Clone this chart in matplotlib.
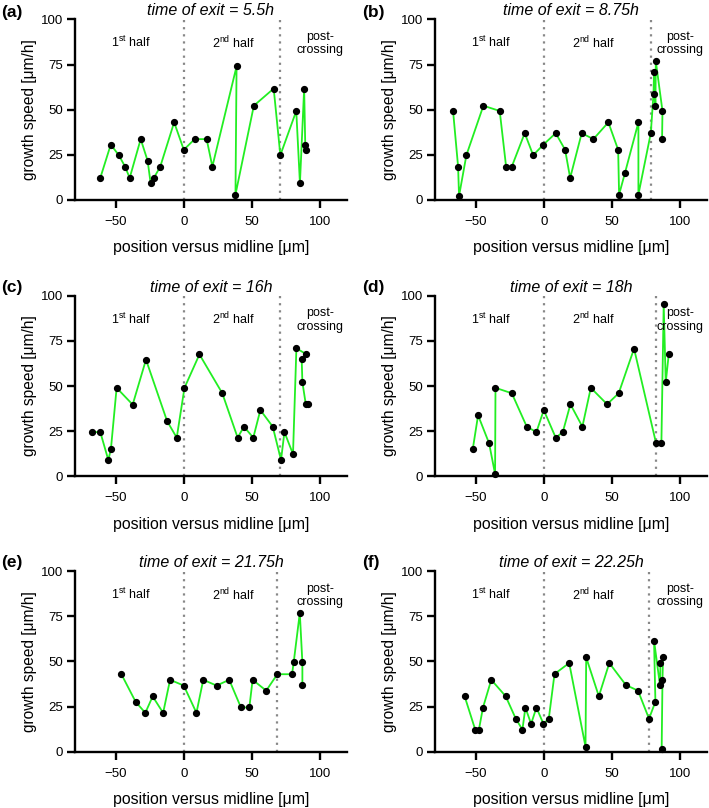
import matplotlib.pyplot as plt

plt.rcParams["font.family"] = ["Liberation Sans", "DejaVu Sans"]
plt.rcParams["mathtext.fontset"] = "custom"
plt.rcParams["mathtext.rm"] = "Liberation Sans"
plt.rcParams["mathtext.it"] = "Liberation Sans:italic"

# panel (a) time of exit = 5.5h
xa = [-61.5, -53.7, -47.8, -43.2, -39.8, -31.7, -26.6, -24.4, -22, -17.3, -7.1, 0, 8, 16.8, 21,
      38.8, 38, 51.5, 66.1, 71, 82.7, 85.4, 88.5, 89.3, 89.5]
ya = [12, 30.7, 24.8, 18.5, 12.2, 33.7, 21.7, 9.3, 12.2, 18.5, 43, 27.8, 33.7, 33.7, 18.5,
      74, 3, 52.2, 61.7, 24.8, 49.3, 9.3, 61.7, 30.7, 27.8]
# panel (b) 8.75h
xb = [-66.7, -63, -62.3, -56.9, -44.4, -32.4, -27.7, -23.5, -14, -7.8, -0.2, 8.8, 15.7, 19.4, 27.9,
      36.5, 47.5, 54.7, 55.4, 59.8, 69.6, 69.6, 78.7, 80.7, 81.1, 82.1, 82.4, 87.3, 87]
yb = [49.3, 18.5, 2.2, 24.8, 52.2, 49.3, 18.5, 18.5, 37, 24.8, 30.7, 37, 27.8, 12.2, 37,
      33.7, 43, 27.8, 3, 15.2, 43, 3, 37, 58.7, 71, 52.2, 76.8, 49.3, 33.9]
# panel (c) 16h
xc = [-67.6, -61.4, -55.5, -53.6, -49.4, -37.6, -27.8, -12.3, -5.2, 0.5, 11.5, 28.3, 39.6, 44.2,
      51.1, 56.3, 65.4, 71.5, 74, 80.3, 82.8, 89.9, 86.7, 87.2, 89.7, 91.2]
yc = [24.5, 24.5, 9, 15.1, 49, 39.7, 64.6, 30.6, 21.4, 49, 67.5, 46, 21.4, 27.5,
      21.4, 36.7, 27.5, 9, 24.5, 12.3, 70.9, 67.7, 64.7, 52.2, 39.9, 39.9]
# panel (d) 18h
xd = [-52.2, -48.3, -40.2, -35.8, -35.5, -23.5, -12.5, -5.4, 0, 8.8, 14, 19.6, 28.4, 34.6,
      46.6, 55.1, 66.4, 82.6, 86.5, 88.2, 89.7, 91.9]
yd = [15.1, 33.8, 18.3, 1.3, 49, 46, 27.5, 24.5, 36.7, 21.4, 24.5, 39.9, 27.5, 49,
      39.9, 46, 70.7, 18.3, 18.3, 95.2, 52, 67.5]
# panel (e) 21.75h
xe = [-45.9, -35.4, -28.3, -22.9, -15.2, -10.1, 0, 9.3, 14.3, 24.1, 33.4, 42, 48.2, 50.6,
      60.6, 68.8, 79.6, 80.8, 85.3, 87.2, 87.2]
ye = [42.9, 27.6, 21.5, 30.6, 21.5, 39.8, 36.6, 21.5, 39.8, 36.6, 39.8, 24.5, 24.5, 39.8,
      33.8, 42.9, 42.9, 49.4, 76.8, 49.4, 36.8]
# panel (f) 22.25h
xf = [-58.2, -50.4, -47.7, -44.7, -38.6, -28, -20.6, -15.7, -13.5, -9.3, -5.4, -0.2, 3.7, 7.9,
      18.7, 30.7, 31.2, 40.5, 48.2, 60.4, 69.3, 77.4, 82.1, 81.1, 85.5, 85.8, 87.7, 87.3, 86.7]
yf = [30.7, 12.2, 12.2, 24.4, 39.8, 30.7, 18.3, 12.2, 24.4, 15.4, 24.4, 15.4, 18.3, 43,
      49.1, 2.8, 52.2, 30.7, 49.1, 36.9, 33.8, 18.3, 27.6, 61.5, 36.7, 49.1, 52.2, 39.8, 1.3]

xs = [xa, xb, xc, xd, xe, xf]
ys = [ya, yb, yc, yd, ye, yf]
exit_pos = [71, 78.7, 71, 82.6, 68.8, 77.4]
times = ["5.5h", "8.75h", "16h", "18h", "21.75h", "22.25h"]
letters = ["(a)", "(b)", "(c)", "(d)", "(e)", "(f)"]

fig = plt.figure(figsize=(7.09, 8.08), dpi=100)
lefts = [0.1058, 0.6135]
bottoms = [0.7525, 0.4105, 0.0697]
w, h = 0.3836, 0.2235

for i in range(6):
    row, col = i // 2, i % 2
    ax = fig.add_axes([lefts[col], bottoms[row], w, h])
    ax.plot(xs[i], ys[i], color="#22ee22", lw=1.3, zorder=3, clip_on=False)
    ax.plot(xs[i], ys[i], "o", color="black", ms=4.2, zorder=4, clip_on=False)
    ax.axvline(0, color="#888888", ls=(0, (1, 2.2)), lw=1.6, zorder=2)
    ax.axvline(exit_pos[i], color="#888888", ls=(0, (1, 2.2)), lw=1.6, zorder=2)

    ax.set_xlim(-80, 120)
    ax.set_ylim(0, 100)
    ax.set_xticks([-50, 0, 50, 100])
    ax.set_yticks([0, 25, 50, 75, 100])
    for s in ["top", "right"]:
        ax.spines[s].set_visible(False)
    for s in ["left", "bottom"]:
        ax.spines[s].set_linewidth(1.7)
    ax.tick_params(length=5.5, width=1.7, labelsize=9.5, pad=3)
    ax.tick_params(axis="x", pad=6)

    ax.set_xlabel("position versus midline [μm]", fontsize=11.4, labelpad=9)
    ax.set_ylabel("growth speed [μm/h]", fontsize=11.2, labelpad=3)
    ax.set_title("time of exit = " + times[i], fontsize=11.5, style="italic", pad=3)

    ax.text(-38.5, 87, "1$^{\\mathrm{st}}$ half", ha="center", va="center", fontsize=9)
    ax.text(36.5, 87, "2$^{\\mathrm{nd}}$ half", ha="center", va="center", fontsize=9)
    ax.text(100.5, 86.5, "post-\ncrossing", ha="center", va="center", fontsize=9,
            linespacing=1.15)

    fx = 0.002 if col == 0 else 0.511
    fy = 0.985 - row * 0.3405
    fig.text(fx, fy, letters[i], fontsize=12.5, fontweight="bold", ha="left", va="center")

fig.savefig("out.png", dpi=100)
